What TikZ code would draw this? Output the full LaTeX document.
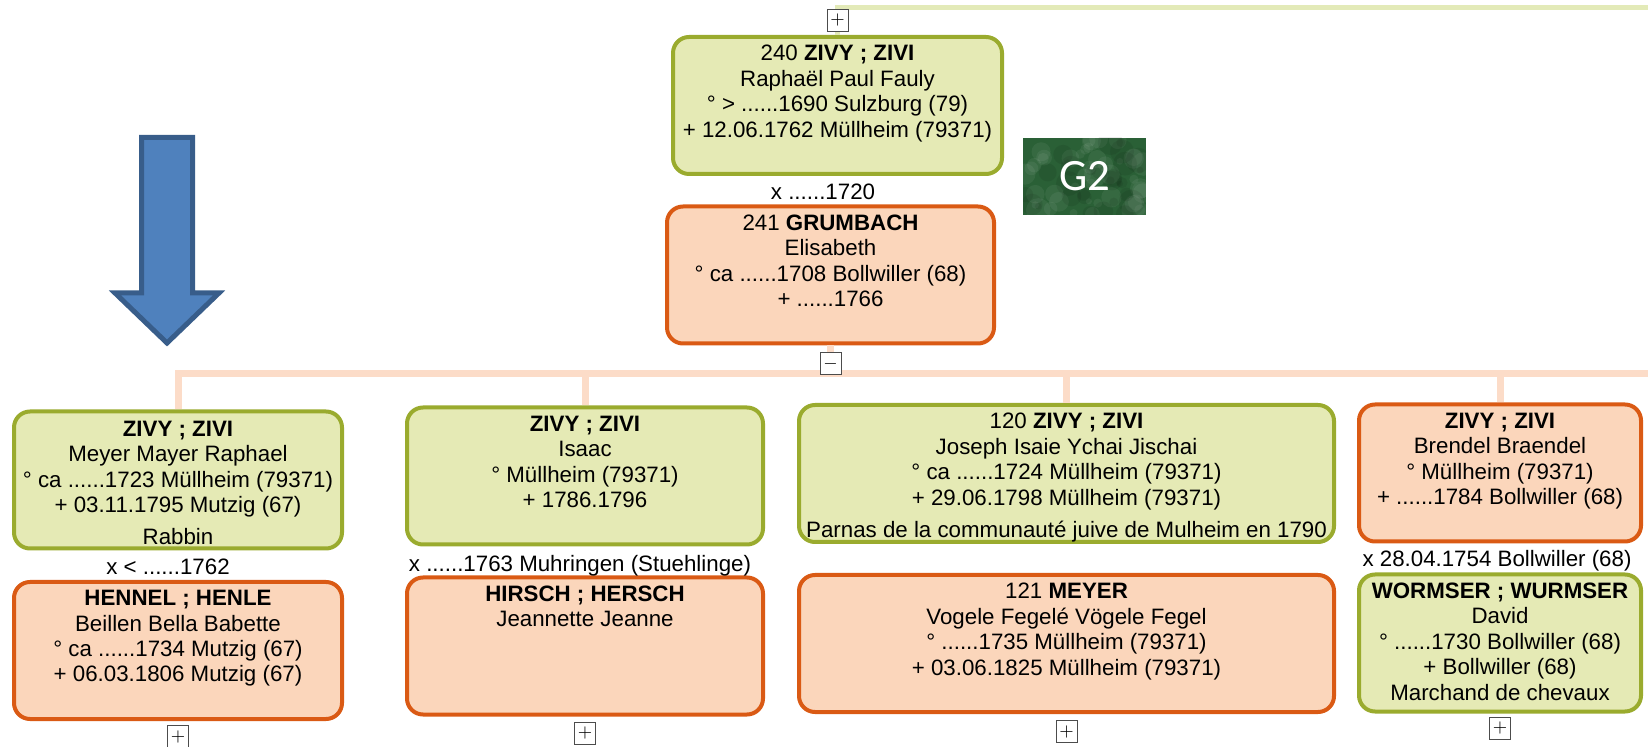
\documentclass[tikz,border=0pt]{standalone}
\usepackage{fontspec}
\setmainfont{Liberation Sans}
\newfontfamily\badgefont{Carlito}
\usetikzlibrary{positioning}

\definecolor{malefill}{HTML}{E5EAB5}
\definecolor{maledraw}{HTML}{9AAB2E}
\definecolor{femfill}{HTML}{FBD6BB}
\definecolor{femdraw}{HTML}{DA5A14}
\definecolor{buscol}{HTML}{FCDCC8}
\definecolor{topcol}{HTML}{E3EAB8}
\definecolor{arrowfill}{HTML}{4F81BD}
\definecolor{arrowdraw}{HTML}{385D8A}
\definecolor{badge}{HTML}{2A6036}

\begin{document}
\begin{tikzpicture}[
		x=0.5pt, y=-0.5pt,
		font=\fontsize{11.15pt}{12.7pt}\selectfont,
		person/.style={draw, line width=2pt, rounded corners=8pt, minimum height=68.5pt, inner sep=0pt},
		male/.style={person, fill=malefill, draw=maledraw},
		female/.style={person, fill=femfill, draw=femdraw},
		info/.style={align=center, inner sep=0pt},
		wed/.style={anchor=base, inner sep=0pt},
		toggle/.style={draw=black!70, fill=white, line width=0.5pt, minimum width=10.5pt, minimum height=11pt, inner sep=0pt, font=\fontsize{9pt}{9pt}\selectfont},
		bus/.style={draw=buscol, line width=3.5pt}
	]
	\useasboundingbox (0,0) rectangle (1648,747);

	% parents
	\node[male, minimum width=164.5pt] (p240) at (837.5,105.5) {};
	\node[info, below=5pt of p240.north] (p240t) {240 \textbf{ZIVY ; ZIVI}\\ Raphaël Paul Fauly\\ ° > ......1690 Sulzburg (79)\\ + 12.06.1762 Müllheim (79371)};
	\node[female, minimum width=163.5pt] (p241) at (830.5,275) {};
	\node[info, below=5pt of p241.north] (p241t) {241 \textbf{GRUMBACH}\\ Elisabeth\\ ° ca ......1708 Bollwiller (68)\\ + ......1766};

	% children and their spouses
	\node[male, minimum width=164pt] (meyer) at (178,480) {};
	\node[info, below=5.5pt of meyer.north] (meyert) {\textbf{ZIVY ; ZIVI}\\ Meyer Mayer Raphael\\ ° ca ......1723 Müllheim (79371)\\ + 03.11.1795 Mutzig (67)\\[3.4pt] Rabbin};
	\node[female, minimum width=164pt] (hennel) at (178,650.5) {};
	\node[info, below=5pt of hennel.north] (hennelt) {\textbf{HENNEL ; HENLE}\\ Beillen Bella Babette\\ ° ca ......1734 Mutzig (67)\\ + 06.03.1806 Mutzig (67)};

	\node[male, minimum width=178pt] (isaac) at (585,476) {};
	\node[info, below=5pt of isaac.north] (isaact) {\textbf{ZIVY ; ZIVI}\\ Isaac\\ ° Müllheim (79371)\\ + 1786.1796};
	\node[female, minimum width=178pt] (hirsch) at (585,646) {};
	\node[info, below=5pt of hirsch.north] (hirscht) {\textbf{HIRSCH ; HERSCH}\\ Jeannette Jeanne};

	\node[male, minimum width=267.5pt] (p120) at (1066.5,473.5) {};
	\node[info, below=5pt of p120.north] (p120t) {120 \textbf{ZIVY ; ZIVI}\\ Joseph Isaie Ychai Jischai\\ ° ca ......1724 Müllheim (79371)\\ + 29.06.1798 Müllheim (79371)\\[3.4pt] Parnas de la communauté juive de Mulheim en 1790};
	\node[female, minimum width=267.5pt] (p121) at (1066.5,643.5) {};
	\node[info, below=5pt of p121.north] (p121t) {121 \textbf{MEYER}\\ Vogele Fegelé Vögele Fegel\\ ° ......1735 Müllheim (79371)\\ + 03.06.1825 Müllheim (79371)};

	\node[female, minimum width=141pt] (brendel) at (1500,473) {};
	\node[info, below=5pt of brendel.north] (brendelt) {\textbf{ZIVY ; ZIVI}\\ Brendel Braendel\\ ° Müllheim (79371)\\ + ......1784 Bollwiller (68)};
	\node[male, minimum width=141pt] (wormser) at (1500,643) {};
	\node[info, below=5pt of wormser.north] (wormsert) {\textbf{WORMSER ; WURMSER}\\ David\\ ° ......1730 Bollwiller (68)\\ + Bollwiller (68)\\ Marchand de chevaux};

	% lines
	\coordinate (topR) at (1648,7.5);
	\coordinate (busR) at (1648,374);
	\draw[draw=topcol, line width=2.5pt] (p240.north) |- (topR);
	\draw[bus] (p241.south) -- (p241.south |- busR);
	\draw[bus] (meyer.north) |- (busR);
	\foreach \kid in {isaac, p120, brendel}
		\draw[bus] (\kid.north) -- (\kid.north |- busR);

	% expand / collapse boxes
	\node[toggle, above=1.5pt of p240] (p240tg) {$+$};
	\node[toggle, below=3.5pt of p241] (p241tg) {$-$};
	\node[toggle, below=2pt of hennel] (henneltg) {$+$};
	\node[toggle, below=2.5pt of hirsch] (hirschtg) {$+$};
	\node[toggle, below=3pt of p121] (p121tg) {$+$};
	\node[toggle, below=1.5pt of wormser] (wormsertg) {$+$};

	% marriages
	\node[wed] (w240) at ([xshift=-3.75pt, yshift=2.5pt]p241.north) {x ......1720};
	\node[wed] (wmeyer) at ([xshift=-5pt, yshift=2.5pt]hennel.north) {x < ......1762};
	\node[wed] (wisaac) at ([xshift=-2.5pt, yshift=2pt]hirsch.north) {x ......1763 Muhringen (Stuehlinge)};
	\node[wed] (wbrendel) at ([xshift=-1.5pt, yshift=3pt]wormser.north) {x 28.04.1754 Bollwiller (68)};

	% generation badge and arrow
	\node[fill=badge, minimum width=61.5pt, minimum height=38.5pt, inner sep=0pt, text=white,
		font=\badgefont\fontsize{22.4pt}{22.4pt}\selectfont,
		path picture={
			\pgfmathsetseed{7}
			\foreach \i in {1,...,45}
				\fill[white, opacity=0.06] ([shift={(rand*60,rand*38)}]path picture bounding box.center) circle (4pt+2.5pt*rand);
			\foreach \i in {1,...,30}
				\fill[black, opacity=0.08] ([shift={(rand*60,rand*38)}]path picture bounding box.center) circle (4pt+2.5pt*rand);
		}] (g2) at (1084.5,176.5) {G2};
	\draw[draw=arrowdraw, fill=arrowfill, line width=2.5pt]
		(141.5,137.5) -- (192.5,137.5) -- (192.5,293) -- (219,293)
		-- (167,343) -- (115,293) -- (141.5,293) -- cycle;
\end{tikzpicture}
\end{document}
